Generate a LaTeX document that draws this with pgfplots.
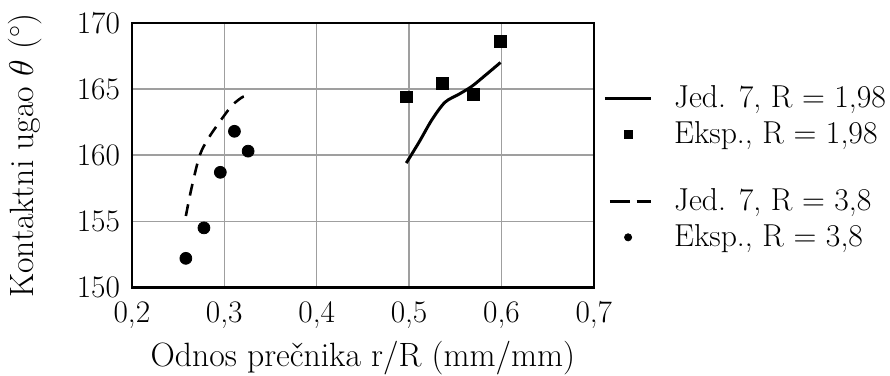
\documentclass[border=0pt]{standalone}
\usepackage{fontspec}
\usepackage{pgfplots}
\pgfplotsset{compat=1.18}
\pgfplotsset{
  leglinesolid/.style={legend image code/.code={\draw[##1] (0pt,0pt) -- (23.5pt,0pt);}},
  leglinedash/.style={legend image code/.code={\draw[##1, dash pattern=on 10pt off 3.5pt] (2.5pt,0pt) -- (23.5pt,0pt);}},
  legmarksq/.style={legend image code/.code={\draw[mark repeat=2,mark phase=2,##1,mark size=2pt] plot coordinates {(0pt,0pt) (11.75pt,0pt) (23.5pt,0pt)};}},
  legmarkdot/.style={legend image code/.code={\draw[mark repeat=2,mark phase=2,##1,mark size=1.8pt] plot coordinates {(0pt,0pt) (11.75pt,0pt) (23.5pt,0pt)};}},
}
\begin{document}
\begin{tikzpicture}
\begin{axis}[
  scale only axis,
  width=233pt, height=133.5pt,
  xmin=0.2, xmax=0.7, ymin=150, ymax=170,
  xtick={0.2,0.3,0.4,0.5,0.6,0.7},
  ytick={150,155,160,165,170},
  /pgf/number format/use comma,
  /pgf/number format/assume math mode=true,
  xticklabel style={/pgf/number format/fixed, /pgf/number format/precision=1, yshift=-3.5pt},
  yticklabel style={xshift=-2.5pt},
  major tick length=0pt,
  grid=major,
  major grid style={gray!75, line width=0.65pt},
  axis line style={black, line width=1.2pt},
  tick label style={font=\fontsize{15.8}{18}\selectfont},
  label style={font=\fontsize{17}{20}\selectfont},
  xlabel={Odnos prečnika r/R (mm/mm)},
  ylabel={Kontaktni ugao $\theta$ ($^\circ$)},
  xlabel style={at={(axis description cs:0.5,-0.30)}, anchor=base, inner ysep=0pt},
  ylabel style={at={(axis description cs:-0.232,0.5)}, anchor=center, inner ysep=4pt},
  legend style={at={(1,0.779)}, anchor=north west, xshift=4.6pt, draw=none, fill=none,
    inner sep=0pt, font=\fontsize{16}{18}\selectfont, row sep=1.6pt,
    /tikz/every odd column/.append style={column sep=8.7pt}},
  legend cell align=left,
]
\addplot[black, line width=1.5pt, smooth, leglinesolid] coordinates {
 (0.497,159.4) (0.511,161.0) (0.525,162.7) (0.539,164.0) (0.554,164.6)
 (0.568,165.2) (0.582,166.0) (0.599,167.0)};
\addlegendentry{Jed. 7, R = 1,98}
\addplot[only marks, mark=square*, mark size=3pt, black, legmarksq] coordinates {
 (0.497,164.4) (0.536,165.4) (0.570,164.6) (0.599,168.6)};
\addlegendentry{Eksp., R = 1,98}
\addlegendimage{empty legend}
\addlegendentry{\rule{0pt}{8.5pt}}
\addplot[black, line width=1.3pt, dash pattern=on 6pt off 4.5pt, smooth, leglinedash] coordinates {
 (0.2584,155.4) (0.2645,157.5) (0.2735,160.0) (0.284,161.4) (0.300,163.0)
 (0.309,163.8) (0.320,164.4) (0.327,164.5)};
\addlegendentry{Jed. 7, R = 3,8}
\addplot[only marks, mark=*, mark size=3pt, black, legmarkdot] coordinates {
 (0.2584,152.2) (0.278,154.5) (0.2957,158.7) (0.311,161.8) (0.3258,160.3)};
\addlegendentry{Eksp., R = 3,8}
\end{axis}
\path (current axis.north) ++(0,11.5pt);
\end{tikzpicture}
\end{document}
